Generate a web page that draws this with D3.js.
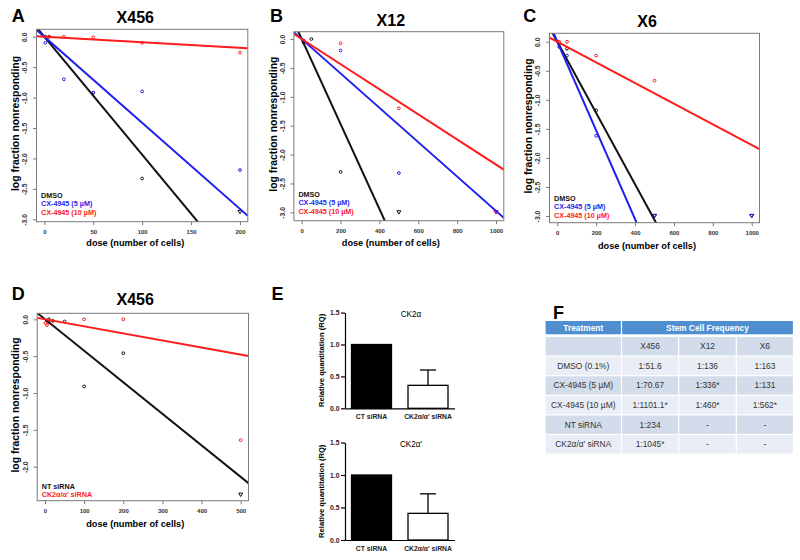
<!DOCTYPE html>
<html>
<head>
<meta charset="utf-8">
<script src="https://cdn.jsdelivr.net/npm/d3@7"></script>
<style>
  body { margin: 0; background: #fff; }
  svg { display: block; font-family: "Liberation Sans", Arial, sans-serif; }
</style>
</head>
<body>
<script>
// ---- data ----
const treatments = ["DMSO (0.1%)", "CX-4945 (5 µM)", "CX-4945 (10 µM)", "NT siRNA", "CK2α/α' siRNA"];
const xenografts = ["X456", "X12", "X6"];
// stem cell frequency 1:n (null = not tested), star = significant
const freqX456 = [51.6, 70.67, 1101.1, 234, 1045];
const freqX12 = [136, 336, 460, null, null];
const freqX6 = [163, 131, 562, null, null];
const starX456 = [false, false, true, false, true];
const starX12 = [false, true, true, false, false];
const starX6 = [false, false, true, false, false];

// ELDA points: [dose, log fraction nonresponding, 1 = no nonresponders (triangle)]
const ptsA_dmso = [[1, 0], [5, 0], [50, -0.92], [100, -2.33], [200, -2.88, 1]];
const ptsA_cx5 = [[1, -0.1], [20, -0.7], [50, -0.92], [100, -0.9], [200, -2.19]];
const ptsA_cx10 = [[5, 0], [20, 0], [50, -0.01], [100, -0.1], [200, -0.26]];

const ptsB_dmso = [[10, -0.06], [50, 0], [200, -2.3], [500, -3.0, 1]];
const ptsB_cx5 = [[10, -0.04], [200, -0.2], [500, -2.32], [1000, -3.0, 1]];
const ptsB_cx10 = [[10, -0.02], [200, -0.075], [500, -1.2], [1000, -3.0, 1]];

const ptsC_dmso = [[10, -0.03], [50, -0.12], [200, -1.18], [500, -3.0, 1], [1000, -3.0, 1]];
const ptsC_cx5 = [[10, -0.09], [50, -0.24], [200, -1.62], [500, -3.0, 1], [1000, -3.0, 1]];
const ptsC_cx10 = [[10, 0], [50, 0], [200, -0.24], [500, -0.67]];

const ptsD_nt = [[5, -0.02], [10, 0], [20, -0.02], [50, -0.03], [100, -0.91], [200, -0.46], [500, -2.38, 1]];
const ptsD_ck2 = [[1, -0.05], [5, -0.08], [10, -0.04], [20, -0.02], [100, 0], [200, 0], [500, -1.64]];

// qPCR
const qpcrGroups = ["CT siRNA", "CK2α/α' siRNA"];
const ck2aMean = [1.0, 0.36];
const ck2aErr = [0, 0.24];
const ck2apMean = [1.0, 0.41];
const ck2apErr = [0, 0.30];

const drugLegend = ["DMSO", "CX-4945 (5 µM)", "CX-4945 (10 µM)"];
const sirnaLegend = ["NT siRNA", "CK2α/α' siRNA"];
const yTicks3 = [0, -0.5, -1, -1.5, -2, -2.5, -3];
const yTicks2 = [0, -0.5, -1, -1.5, -2];

const svg = d3.select("body").append("svg")
  .attr("width", 800)
  .attr("height", 560);

const colors = ["#111", "#1f1ff0", "#ff1a1a"];

// panel letters
[["A", 11.7, 21.7], ["B", 270, 21.7], ["C", 523.3, 21.7], ["D", 11.7, 299.5], ["E", 271.5, 300], ["F", 553, 318.5]]
  .forEach(l => {
    svg.append("text").attr("x", l[1]).attr("y", l[2]).text(l[0])
      .attr("font-size", 18).attr("font-weight", "bold");
  });

function eldaPanel(p) {
  const x = d3.scaleLinear().domain(p.xDom).range([p.box.l, p.box.r]);
  const y = d3.scaleLinear().domain(p.yDom).range([p.box.b, p.box.t]);
  const g = svg.append("g");
  const clipId = "clip" + p.id;

  g.append("clipPath").attr("id", clipId).append("rect")
    .attr("x", p.box.l).attr("y", p.box.t)
    .attr("width", p.box.r - p.box.l).attr("height", p.box.b - p.box.t);

  // points
  p.series.forEach(s => {
    g.append("g")
      .selectAll("path")
      .data(s.pts)
      .join("path")
      .attr("transform", d => `translate(${x(d[0])},${y(d[1])})`)
      .attr("d", d => d[2] ? "M-2,-1.6L2,-1.6L0,1.8Z" : d3.symbol(d3.symbolCircle, 6)())
      .attr("fill", "none")
      .attr("stroke", s.color)
      .attr("stroke-width", 1);
  });

  // fitted lines: log fraction = -dose / frequency
  const plot = g.append("g").attr("clip-path", `url(#${clipId})`);
  p.series.forEach(s => {
    plot.append("line")
      .attr("x1", x(p.xDom[0])).attr("y1", y(-p.xDom[0] / s.freq))
      .attr("x2", x(p.xDom[1])).attr("y2", y(-p.xDom[1] / s.freq))
      .attr("stroke", s.color)
      .attr("stroke-width", 2);
  });

  // frame
  g.append("rect")
    .attr("x", p.box.l).attr("y", p.box.t)
    .attr("width", p.box.r - p.box.l).attr("height", p.box.b - p.box.t)
    .attr("fill", "none").attr("stroke", "#7a7a7a").attr("stroke-width", 1);

  // x axis
  const xa = g.append("g")
    .attr("transform", `translate(0,${p.box.b})`)
    .call(d3.axisBottom(x).tickValues(p.xTicks).tickSize(3.5).tickPadding(5).tickFormat(d3.format("d")));
  xa.select(".domain").remove();

  // y axis, labels rotated like R
  const ya = g.append("g")
    .attr("transform", `translate(${p.box.l},0)`)
    .call(d3.axisLeft(y).tickValues(p.yTicks).tickSize(3.5).tickFormat(d => d.toFixed(1)));
  ya.select(".domain").remove();
  ya.selectAll("text")
    .attr("x", null)
    .attr("dy", "0.35em")
    .attr("text-anchor", "middle")
    .attr("transform", "translate(-11.5,0) rotate(-90)");

  [xa, ya].forEach(a => {
    a.attr("font-family", null);
    a.selectAll("line").attr("stroke", "#7a7a7a");
    a.selectAll("text").attr("fill", "#333").attr("font-weight", "bold");
  });
  xa.attr("font-size", 6);
  ya.attr("font-size", 6.8);

  // titles
  g.append("text")
    .attr("x", p.titleX).attr("y", p.titleY)
    .attr("text-anchor", "middle")
    .attr("font-size", 16).attr("font-weight", "bold")
    .text(p.title);

  g.append("text")
    .attr("x", p.titleX).attr("y", p.xlabY)
    .attr("text-anchor", "middle")
    .attr("font-size", 9.2).attr("font-weight", "bold")
    .text("dose (number of cells)");

  g.append("text")
    .attr("transform", `translate(${p.ylabX},${(p.box.t + p.box.b) / 2 - 2}) rotate(-90)`)
    .attr("dy", "0.35em")
    .attr("text-anchor", "middle")
    .attr("font-size", 10.4).attr("font-weight", "bold")
    .text("log fraction nonresponding");

  // legend
  g.append("g")
    .selectAll("text")
    .data(p.series)
    .join("text")
    .attr("x", p.box.l + 4.5)
    .attr("y", (d, i) => p.legY + i * 8.6)
    .attr("fill", d => d.color)
    .attr("font-size", 7.2).attr("font-weight", "bold")
    .text(d => d.label);
}

eldaPanel({
  id: "A", title: xenografts[0], titleX: 135.3, titleY: 22.7, xlabY: 245.5, ylabX: 15,
  box: { l: 36.5, r: 247.8, t: 29.3, b: 221.7 },
  xDom: [-8, 208], yDom: [-3.039, 0.1216],
  xTicks: [0, 50, 100, 150, 200], yTicks: yTicks3, legY: 197.5,
  series: [
    { label: drugLegend[0], color: colors[0], freq: freqX456[0], pts: ptsA_dmso },
    { label: drugLegend[1], color: colors[1], freq: freqX456[1], pts: ptsA_cx5 },
    { label: drugLegend[2], color: colors[2], freq: freqX456[2], pts: ptsA_cx10 }
  ]
});

eldaPanel({
  id: "B", title: xenografts[1], titleX: 390.8, titleY: 26, xlabY: 246, ylabX: 273.3,
  box: { l: 293.9, r: 503.8, t: 31.7, b: 220.7 },
  xDom: [-40, 1040], yDom: [-3.145, 0.1264],
  xTicks: [0, 200, 400, 600, 800, 1000], yTicks: yTicks3, legY: 196.5,
  series: [
    { label: drugLegend[0], color: colors[0], freq: freqX12[0], pts: ptsB_dmso },
    { label: drugLegend[1], color: colors[1], freq: freqX12[1], pts: ptsB_cx5 },
    { label: drugLegend[2], color: colors[2], freq: freqX12[2], pts: ptsB_cx10 }
  ]
});

eldaPanel({
  id: "C", title: xenografts[2], titleX: 647, titleY: 27.3, xlabY: 248.5, ylabX: 528.3,
  box: { l: 549.5, r: 759.5, t: 33.3, b: 222.7 },
  xDom: [-40, 1040], yDom: [-3.115, 0.1446],
  xTicks: [0, 200, 400, 600, 800, 1000], yTicks: yTicks3, legY: 200.5,
  series: [
    { label: drugLegend[0], color: colors[0], freq: freqX6[0], pts: ptsC_dmso },
    { label: drugLegend[1], color: colors[1], freq: freqX6[1], pts: ptsC_cx5 },
    { label: drugLegend[2], color: colors[2], freq: freqX6[2], pts: ptsC_cx10 }
  ]
});

eldaPanel({
  id: "D", title: xenografts[0], titleX: 135.2, titleY: 305, xlabY: 526.5, ylabX: 15,
  box: { l: 37.2, r: 248.5, t: 313.3, b: 500.7 },
  xDom: [-20, 520], yDom: [-2.461, 0.0814],
  xTicks: [0, 100, 200, 300, 400, 500], yTicks: yTicks2, legY: 488.5,
  series: [
    { label: sirnaLegend[0], color: colors[0], freq: freqX456[3], pts: ptsD_nt },
    { label: sirnaLegend[1], color: colors[2], freq: freqX456[4], pts: ptsD_ck2 }
  ]
});

// ---- E: qPCR bars ----
function qpcrPanel(p) {
  const x = d3.scaleBand().domain(qpcrGroups).range([345, 454.5])
    .paddingInner(0.292).paddingOuter(0.115);
  const y = d3.scaleLinear().domain([0, 1.5]).range([p.y0, p.y0 - 1.5 * p.unit]);
  const g = svg.append("g");

  g.append("g")
    .selectAll("rect")
    .data(p.mean)
    .join("rect")
    .attr("x", (d, i) => x(qpcrGroups[i]))
    .attr("y", d => y(d))
    .attr("width", x.bandwidth())
    .attr("height", d => y(0) - y(d))
    .attr("fill", (d, i) => i === 0 ? "#000" : "#fff")
    .attr("stroke", "#000").attr("stroke-width", 1.3);

  // error bars (upper only)
  p.mean.forEach((m, i) => {
    if (!p.err[i]) return;
    const cx = x(qpcrGroups[i]) + x.bandwidth() / 2;
    g.append("line").attr("x1", cx).attr("x2", cx)
      .attr("y1", y(m)).attr("y2", y(m + p.err[i]))
      .attr("stroke", "#000").attr("stroke-width", 1.3);
    g.append("line").attr("x1", cx - 8).attr("x2", cx + 8)
      .attr("y1", y(m + p.err[i])).attr("y2", y(m + p.err[i]))
      .attr("stroke", "#000").attr("stroke-width", 1.3);
  });

  const ya = g.append("g").attr("transform", "translate(345,0)")
    .call(d3.axisLeft(y).tickValues([0, 0.5, 1, 1.5]).tickSize(4).tickSizeOuter(0).tickPadding(1.5).tickFormat(d3.format(".1f")));
  const xa = g.append("g").attr("transform", `translate(0,${p.y0})`)
    .call(d3.axisBottom(x).tickSize(0).tickSizeOuter(0).tickPadding(6));
  [xa, ya].forEach(a => {
    a.attr("font-family", null).attr("font-size", 6.8);
    a.selectAll("line, path").attr("stroke", "#000").attr("stroke-width", 1.2);
    a.selectAll("text").attr("fill", "#222").attr("font-weight", "bold");
  });

  g.append("text")
    .attr("x", 411).attr("y", p.titleY)
    .attr("text-anchor", "middle")
    .attr("font-size", 8.2)
    .text(p.title);

  g.append("text")
    .attr("transform", `translate(321.7,${p.y0 - 0.75 * p.unit}) rotate(-90)`)
    .attr("dy", "0.35em")
    .attr("text-anchor", "middle")
    .attr("font-size", 7.6).attr("font-weight", "bold")
    .text("Relative quantitation (RQ)");
}

qpcrPanel({ title: "CK2α", mean: ck2aMean, err: ck2aErr, y0: 408.3, unit: 63.8, titleY: 317 });
qpcrPanel({ title: "CK2α'", mean: ck2apMean, err: ck2apErr, y0: 540, unit: 65, titleY: 447 });

// ---- F: stem cell frequency table ----
const fmt = (f, s) => f == null ? "-" : "1:" + f + (s ? "*" : "");
const tableRows = [["", ...xenografts]].concat(treatments.map((t, i) => [
  t, fmt(freqX456[i], starX456[i]), fmt(freqX12[i], starX12[i]), fmt(freqX6[i], starX6[i])
]));

const colX = [545, 621.5, 678.7, 736.3, 793.5];
const rowY0 = 336.5, rowH = 19.6;
const tbl = svg.append("g").attr("font-size", 8.4);

// header
[["Treatment", colX[0], colX[1]], ["Stem Cell Frequency", colX[1], colX[4]]].forEach(h => {
  tbl.append("rect")
    .attr("x", h[1] + 0.6).attr("y", 321)
    .attr("width", h[2] - h[1] - 1.2).attr("height", 13.3)
    .attr("fill", "#4f8fcf");
  tbl.append("text")
    .attr("x", (h[1] + h[2]) / 2).attr("y", 327.7)
    .attr("dy", "0.35em").attr("text-anchor", "middle")
    .attr("fill", "#fff").attr("font-weight", "bold")
    .text(h[0]);
});

tableRows.forEach((row, i) => {
  row.forEach((cell, j) => {
    tbl.append("rect")
      .attr("x", colX[j] + 0.6).attr("y", rowY0 + i * rowH + 0.6)
      .attr("width", colX[j + 1] - colX[j] - 1.2).attr("height", rowH - 1.2)
      .attr("fill", i % 2 === 0 ? "#d3dcea" : "#e9edf5");
    tbl.append("text")
      .attr("x", (colX[j] + colX[j + 1]) / 2)
      .attr("y", rowY0 + i * rowH + rowH / 2)
      .attr("dy", "0.35em").attr("text-anchor", "middle")
      .attr("fill", "#333")
      .text(cell);
  });
});
</script>
</body>
</html>
